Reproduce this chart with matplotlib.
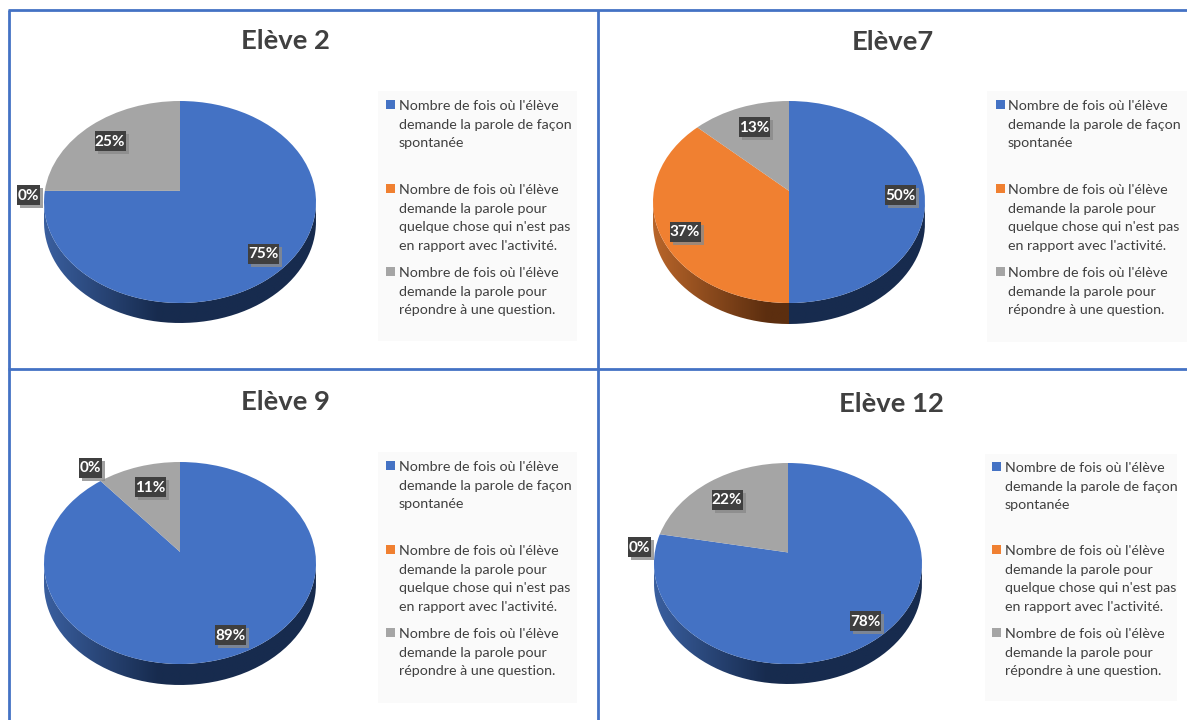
"""Four 3D-looking pie charts, one per pupil, with blue frame lines between them."""
import numpy as np
import matplotlib
matplotlib.use("Agg")
import matplotlib.pyplot as plt
from matplotlib.colors import LinearSegmentedColormap
from matplotlib.patches import PathPatch, Rectangle
from matplotlib.path import Path
from matplotlib.transforms import Transform

plt.rcParams["font.family"] = ["Lato", "DejaVu Sans"]

W, H = 1187, 720

# data
TITLES = ["Elève 2", "Elève7", "Elève 9", "Elève 12"]
SPONTANEE = [75, 50, 89, 78]
HORS_SUJET = [0, 37, 0, 0]
QUESTION = [25, 13, 11, 22]
LEGEND_LINES = [
    ["Nombre de fois où l'élève", "demande la parole de façon", "spontanée"],
    ["Nombre de fois où l'élève", "demande la parole pour", "quelque chose qui n'est pas", "en rapport avec l'activité."],
    ["Nombre de fois où l'élève", "demande la parole pour", "répondre à une question."],
]

COLORS = ["#4472C4", "#F08031", "#A5A5A5"]
WALL_LIGHT = ["#3A5F9F", "#B8652A", "#7C7C7C"]
WALL_DARK = ["#172B4E", "#5C2E0F", "#4A4A4A"]
FRAME = "#4472C4"
TEXT = "#404040"
PANEL = "#FAFAFA"

# layout in pixels, one entry per chart
PIES = [(180, 101, 303, 136, 20), (789, 101, 303, 136, 21), (180, 462, 664, 136, 21), (788, 463, 664, 134, 20)]
TITLE_POS = [(285, 41), (893, 42), (285, 402), (891, 404)]
PANELS = [(378, 91, 577, 341), (987, 91, 1187, 342), (378, 452, 577, 703), (985, 454, 1177, 701)]
TEXT_X = [399, 1008, 399, 1005]
MARK_X = [386, 996, 386, 992]
BLOCK_Y = [(105, 189, 272), (105, 189, 272), (466, 550, 633), (467, 550, 633)]
LABEL_POS = [
    [(263, 254), (28, 195), (110, 141)],
    [(900, 195), (685, 232), (754, 127)],
    [(230, 635), (90, 468), (150, 487)],
    [(865, 621), (639, 547), (727, 500)],
]
TILT = 0.11  # how far the pie's apex sits above the middle of the ellipse


class Tilt(Transform):
    """Projective map of the unit disc onto itself, gives the perspective look."""
    input_dims = output_dims = 2

    def transform_non_affine(self, values):
        v = np.asarray(values, dtype=float)
        d = 1 + TILT * v[:, 1]
        return np.column_stack([v[:, 0] * np.sqrt(1 - TILT ** 2) / d, (v[:, 1] + TILT) / d])


def draw_wall(ax, wedge, idx, depth):
    theta = np.radians(np.linspace(wedge.theta1, wedge.theta2, 200))
    rim = Tilt().transform_non_affine(np.column_stack([np.cos(theta), np.sin(theta)]))
    rim = rim[rim[:, 1] <= 0]
    if len(rim) < 2:
        return
    low = rim - [0, depth]
    clip = PathPatch(Path(np.vstack([rim, low[::-1], rim[:1]])), transform=ax.transData)
    cmap = LinearSegmentedColormap.from_list(
        "wall", [(0, WALL_LIGHT[idx]), (0.42, WALL_DARK[idx]), (1, WALL_DARK[idx])])
    grad = np.linspace(0, 1, 256).reshape(1, -1)
    im = ax.imshow(grad, cmap=cmap, extent=(-1, 1, -1 - depth, 1), aspect="auto", zorder=1)
    im.set_clip_path(clip)


fig = plt.figure(figsize=(W / 100, H / 100), dpi=100, facecolor="white")

for i, (cx, top, bottom, rx, wall) in enumerate(PIES):
    ry = (bottom - top) / 2
    depth = wall / ry
    pad = 2
    ax = fig.add_axes([(cx - rx - pad) / W, (H - bottom - wall - pad) / H,
                       (2 * rx + 2 * pad) / W, (bottom - top + wall + 2 * pad) / H])
    values = [SPONTANEE[i], HORS_SUJET[i], QUESTION[i]]
    wedges, _ = ax.pie(values, colors=COLORS, startangle=90, counterclock=False,
                       wedgeprops={"linewidth": 0})
    for j, w in enumerate(wedges):
        w.set_transform(Tilt() + ax.transData)
        w.set_zorder(3)
        draw_wall(ax, w, j, depth)
    ax.set_aspect("auto")
    ax.set_xlim(-1 - pad / rx, 1 + pad / rx)
    ax.set_ylim(-1 - depth - pad / ry, 1 + pad / ry)
    ax.axis("off")

# everything else goes on a full figure overlay in pixel units
ov = fig.add_axes([0, 0, 1, 1], zorder=5)
ov.set_xlim(0, W)
ov.set_ylim(H, 0)
ov.axis("off")

ov.plot([9, 9], [10, H], color=FRAME, lw=2, solid_capstyle="butt")
ov.plot([598, 598], [10, H], color=FRAME, lw=2, solid_capstyle="butt")
ov.plot([8, W], [10, 10], color=FRAME, lw=2, solid_capstyle="butt")
ov.plot([8, W], [369, 369], color=FRAME, lw=2, solid_capstyle="butt")

for i in range(4):
    tx, ty = TITLE_POS[i]
    ov.text(tx, ty, TITLES[i], ha="center", va="center", fontsize=19.7, fontweight="bold", color=TEXT)

    x0, y0, x1, y1 = PANELS[i]
    ov.add_patch(Rectangle((x0, y0), x1 - x0, y1 - y0, facecolor=PANEL, edgecolor="none", zorder=0))
    for j, lines in enumerate(LEGEND_LINES):
        by = BLOCK_Y[i][j]
        ov.add_patch(Rectangle((MARK_X[i], by - 5), 9, 9, facecolor=COLORS[j], edgecolor="none"))
        for k, line in enumerate(lines):
            ov.text(TEXT_X[i], by + 1 + k * 18.7, line, ha="left", va="center", fontsize=10.25, color=TEXT)

    values = [SPONTANEE[i], HORS_SUJET[i], QUESTION[i]]
    for j, v in enumerate(values):
        lx, ly = LABEL_POS[i][j]
        label = f"{v}%"
        bw = 31 if v >= 10 else 23
        ov.add_patch(Rectangle((lx - bw / 2 + 3, ly - 10 + 3), bw, 20, facecolor="#8A8A8A", alpha=0.8,
                               edgecolor="none", zorder=6))
        ov.add_patch(Rectangle((lx - bw / 2, ly - 10), bw, 20, facecolor="#3F3F3F", edgecolor="none", zorder=7))
        ov.text(lx, ly + 0.5, label, ha="center", va="center", fontsize=11, fontweight="bold",
                color="white", zorder=8)

fig.savefig("out.png", dpi=100, facecolor="white")
